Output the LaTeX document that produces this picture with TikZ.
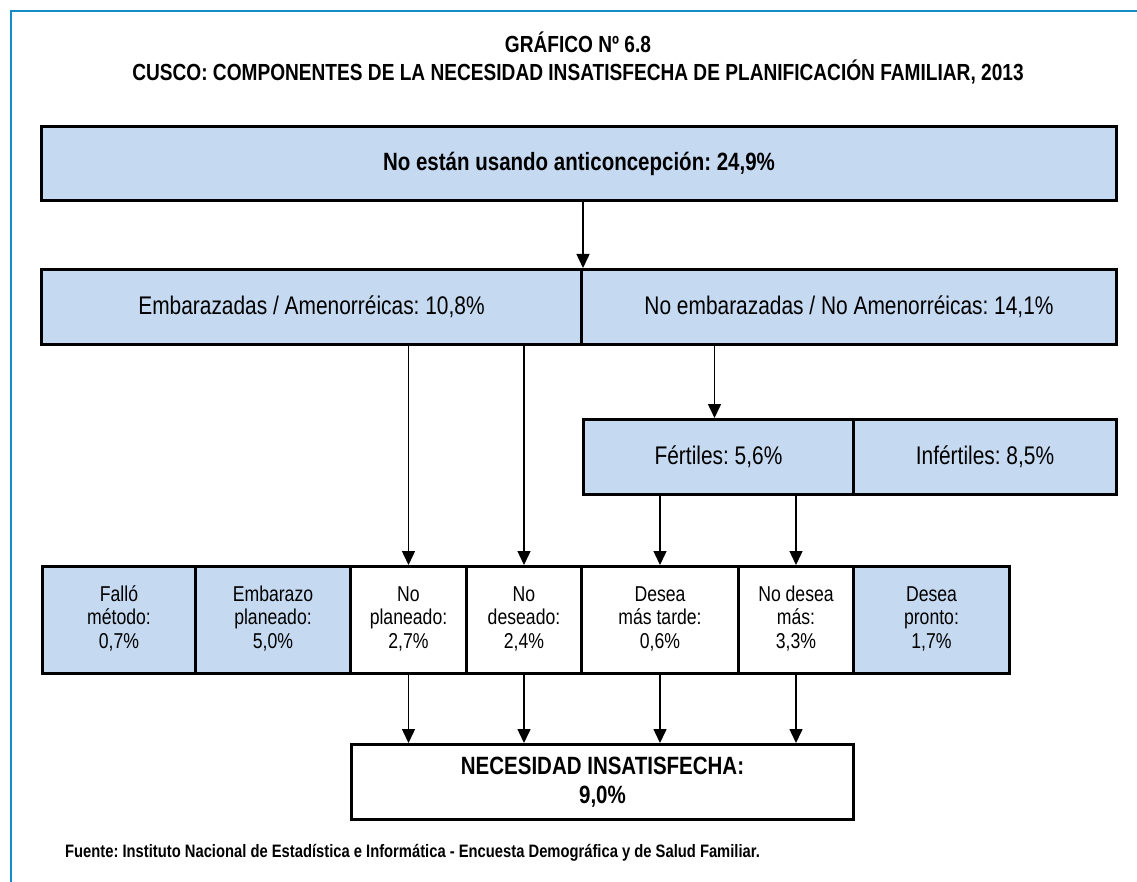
\documentclass[tikz,border=0pt]{standalone}
\usepackage{fontspec}
\setmainfont{Liberation Sans}[FakeStretch=0.82]
\usetikzlibrary{arrows.meta}
\definecolor{framecol}{RGB}{20,140,200}
\definecolor{boxblue}{RGB}{197,217,241}
\frenchspacing
\newcommand{\cellstack}[1]{\raisebox{4pt}{\begin{tabular}{@{}c@{}}#1\end{tabular}}}
\tikzset{
  box/.style={draw=black, line width=3pt, anchor=north west, inner sep=0pt, align=center},
  bluebox/.style={box, fill=boxblue},
  whitebox/.style={box, fill=white},
  arr/.style={line width=1.5pt, -{Triangle[width=13pt,length=14pt]}},
  big/.style={font=\fontsize{25.5}{29}\selectfont},
  small/.style={font=\fontsize{21.5}{23.5}\selectfont},
}
\begin{document}
\begin{tikzpicture}[x=1pt,y=-1pt]
\useasboundingbox (0,0) rectangle (1137,882);
\draw[framecol, line width=2pt] (11,882) -- (11,11) -- (1137,11);
\node[font=\bfseries\fontsize{23.3}{28}\selectfont, align=center] (title) at (578,58)
  {GRÁFICO Nº 6.8\\CUSCO: COMPONENTES DE LA NECESIDAD INSATISFECHA DE PLANIFICACIÓN FAMILIAR, 2013};
% level 1
\node[bluebox, minimum width=1075pt, minimum height=74pt, font=\bfseries\fontsize{25}{29}\selectfont] (top) at (40,125) {No están usando anticoncepción: 24,9\%};
% level 2
\node[bluebox, big, minimum width=540pt, minimum height=75pt] (emb) at (40,268) {Embarazadas / Amenorréicas: 10,8\%};
\node[bluebox, big, minimum width=535pt, minimum height=75pt] (noemb) at (580,268) {No embarazadas / No Amenorréicas: 14,1\%};
% level 3
\node[bluebox, big, minimum width=270pt, minimum height=75pt] (fert) at (582,418) {Fértiles: 5,6\%};
\node[bluebox, big, minimum width=263pt, minimum height=75pt] (infert) at (852,418) {Infértiles: 8,5\%};
% level 4
\node[bluebox, small, minimum width=153pt, minimum height=107pt] (fallo) at (41,565) {\cellstack{Falló\\método:\\0,7\%}};
\node[bluebox, small, minimum width=155pt, minimum height=107pt] (plan) at (194,565) {\cellstack{Embarazo\\planeado:\\5,0\%}};
\node[whitebox, small, minimum width=116pt, minimum height=107pt] (noplan) at (349,565) {\cellstack{No\\planeado:\\2,7\%}};
\node[whitebox, small, minimum width=115pt, minimum height=107pt] (nodes) at (465,565) {\cellstack{No\\deseado:\\2,4\%}};
\node[whitebox, small, minimum width=157pt, minimum height=107pt] (tarde) at (580,565) {\cellstack{Desea\\más tarde:\\0,6\%}};
\node[whitebox, small, minimum width=115pt, minimum height=107pt] (nomas) at (737,565) {\cellstack{No desea\\más:\\3,3\%}};
\node[bluebox, small, minimum width=156pt, minimum height=107pt] (pronto) at (852,565) {\cellstack{Desea\\pronto:\\1,7\%}};
% final
\node[whitebox, minimum width=502pt, minimum height=75pt, font=\bfseries\fontsize{25}{29}\selectfont] (nec) at (350,743) {NECESIDAD INSATISFECHA:\\9,0\%};
% source
\node[anchor=west, inner sep=0pt, font=\bfseries\fontsize{18}{21}\selectfont] (src) at (65,853) {Fuente: Instituto Nacional de Estadística e Informática - Encuesta Demográfica y de Salud Familiar.};
% arrows
\draw[arr] (top.south -| emb.north east) -- (emb.north east);
\draw[arr] (emb.south -| noplan.north) -- (noplan.north);
\draw[arr] (emb.south -| nodes.north) -- (nodes.north);
\draw[arr] ([xshift=-4pt]noemb.south -| fert.north) -- ([xshift=-4pt]fert.north);
\draw[arr] (fert.south -| tarde.north) -- (tarde.north);
\draw[arr] (fert.south -| nomas.north) -- (nomas.north);
\draw[arr] (noplan.south) -- (noplan.south |- nec.north);
\draw[arr] (nodes.south) -- (nodes.south |- nec.north);
\draw[arr] (tarde.south) -- (tarde.south |- nec.north);
\draw[arr] (nomas.south) -- (nomas.south |- nec.north);
\end{tikzpicture}
\end{document}
